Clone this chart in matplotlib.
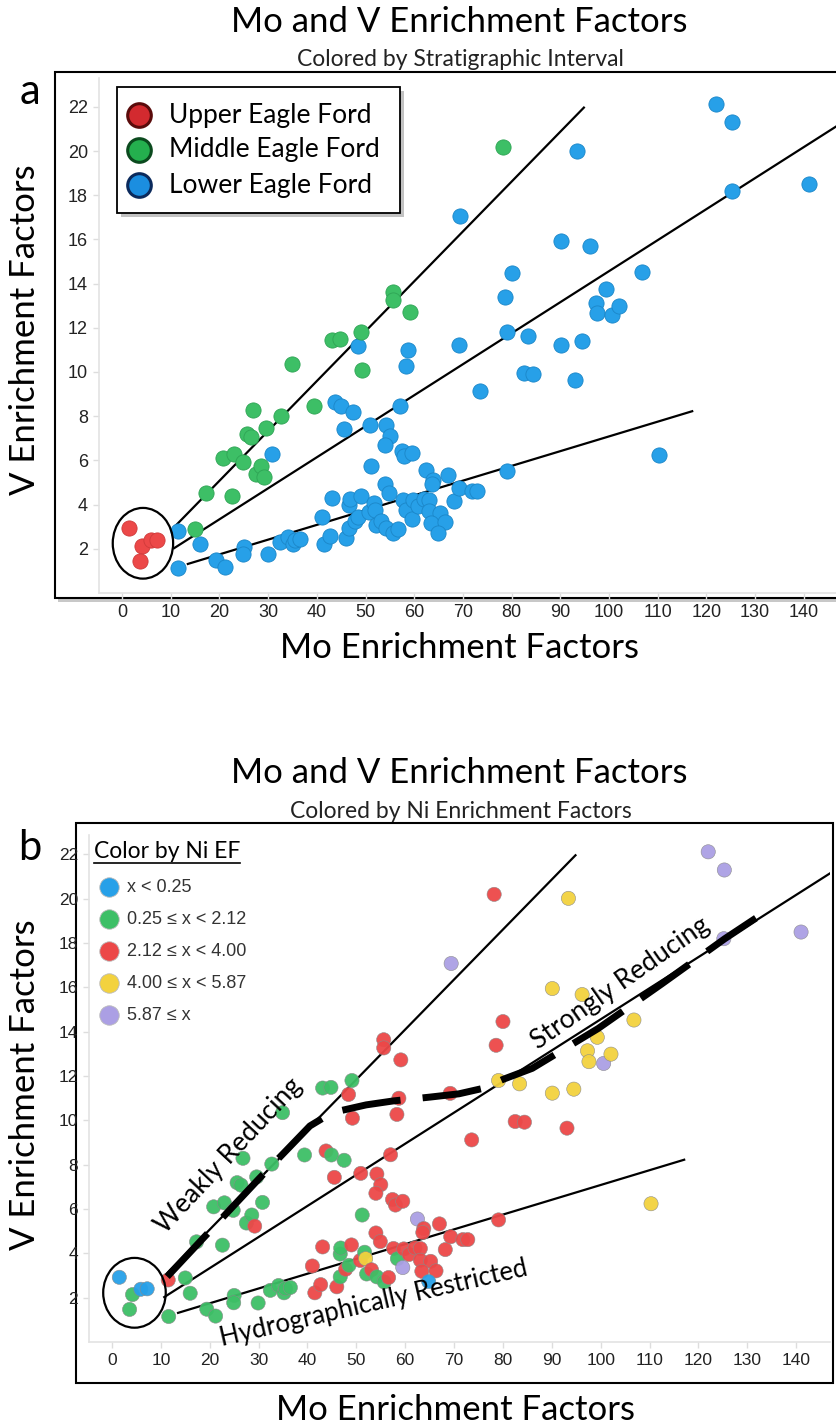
import numpy as np
import matplotlib
matplotlib.use("Agg")
import matplotlib.pyplot as plt
from matplotlib.patches import Ellipse, Rectangle
from matplotlib.lines import Line2D

W, H = 836, 1428

# ---- data (Mo EF, V EF) ----
# upper eagle ford
upper_mo = [1.5, 4.2, 3.6, 5.9, 7.2]
upper_v = [2.92, 2.14, 1.47, 2.38, 2.4]
upper_ni = [0, 1, 1, 0, 0]

# middle eagle ford
middle_mo = [15.0, 17.3, 20.8, 23.0, 24.8, 22.6, 25.6, 26.4, 26.8, 27.5, 28.6, 29.2,
             29.6, 32.7, 34.9, 39.4, 43.1, 44.8, 49.1, 49.2, 55.6, 55.6, 59.1, 78.2]
middle_v = [2.89, 4.52, 6.1, 6.28, 5.94, 4.37, 7.19, 7.08, 8.29, 5.37, 5.73, 5.23,
            7.45, 8.03, 10.35, 8.44, 11.46, 11.49, 11.8, 10.1, 13.64, 13.27, 12.73, 20.2]
middle_ni = [1, 1, 1, 1, 1, 1, 1, 1, 1, 1, 1, 2,
             1, 1, 1, 1, 1, 1, 1, 2, 2, 2, 2, 2]

# lower eagle ford
lower_mo = [11.5, 11.6, 16.0, 19.4, 21.2, 25.0, 24.9, 29.9, 30.8, 32.4, 34.1, 35.2, 35.5, 36.5,
            41.0, 41.5, 42.7, 43.1, 43.8, 44.9, 45.5, 47.5, 46.0, 46.7, 46.7, 46.8, 47.8, 48.5,
            49.0, 48.4, 50.8, 50.9, 51.2, 51.7, 51.9, 52.1, 53.1, 54.2, 55.0, 54.0, 54.0, 54.9,
            54.2, 55.7, 56.6, 57.0, 58.7, 58.3, 57.4, 58.0, 59.5, 57.6, 58.4, 59.7, 59.5, 60.8,
            62.0, 63.1, 62.5, 63.8, 63.6, 63.1, 65.2, 63.4, 66.3, 64.8, 67.0, 68.2, 69.3, 71.8,
            72.8, 69.2, 73.6, 79.1, 79.1, 83.4, 82.5, 84.4, 90.1, 94.5, 93.1, 97.3, 97.6, 100.6,
            102.1, 99.3, 106.8, 110.3, 78.6, 80.0, 90.1, 96.2, 69.4, 93.4, 122.0, 125.3, 125.2, 141.0]
lower_v = [2.8, 1.15, 2.2, 1.48, 1.17, 2.1, 1.77, 1.76, 6.3, 2.33, 2.55, 2.22, 2.41, 2.46,
           3.43, 2.22, 2.59, 4.29, 8.62, 8.44, 7.43, 8.2, 2.49, 2.94, 3.97, 4.24, 3.28, 3.46,
           4.38, 11.17, 3.68, 7.61, 5.73, 4.05, 3.76, 3.07, 3.26, 7.58, 7.1, 6.71, 4.92, 4.53,
           2.94, 2.71, 2.91, 8.45, 11.0, 10.27, 6.43, 6.18, 6.35, 4.22, 3.76, 4.2, 3.36, 3.95,
           4.25, 4.22, 5.55, 5.12, 4.94, 3.69, 3.64, 3.19, 3.21, 2.73, 5.33, 4.17, 4.75, 4.62,
           4.62, 11.22, 9.12, 5.51, 11.8, 11.65, 9.95, 9.92, 11.23, 11.41, 9.65, 13.14, 12.65, 12.57,
           12.99, 13.75, 14.53, 6.24, 13.39, 14.46, 15.95, 15.68, 17.08, 20.02, 22.12, 21.3, 18.2, 18.5]
lower_ni = [2, 1, 1, 1, 1, 1, 1, 1, 1, 1, 1, 1, 1, 1,
            2, 2, 2, 2, 2, 1, 2, 1, 2, 1, 1, 1, 2, 1,
            2, 2, 2, 2, 1, 1, 3, 1, 2, 2, 2, 2, 2, 2,
            1, 1, 2, 2, 2, 2, 2, 2, 2, 2, 1, 2, 4, 2,
            2, 2, 4, 2, 2, 2, 2, 2, 2, 0, 2, 2, 2, 2,
            2, 2, 2, 2, 3, 3, 2, 2, 3, 3, 2, 3, 3, 4,
            3, 3, 3, 3, 2, 2, 3, 3, 4, 3, 4, 4, 4, 4]

interval_names = ["Upper Eagle Ford", "Middle Eagle Ford", "Lower Eagle Ford"]
ni_labels = ["x < 0.25", "0.25 \u2264 x < 2.12", "2.12 \u2264 x < 4.00",
             "4.00 \u2264 x < 5.87", "5.87 \u2264 x"]

# trend lines
steep_x, steep_y = [10.8, 95.0], [3.0, 22.0]
mid_x, mid_y = [10.5, 148.0], [2.0, 21.3]
low_x, low_y = [13.3, 117.3], [1.3, 8.24]

# redox boundary curve (panel b)
redox_x = [11.3, 20, 30, 40.5, 43.5, 47, 52, 57.6, 65, 71, 76, 80, 86, 99.5, 112.5, 125.4, 134.3]
redox_y = [2.95, 5.0, 7.35, 9.75, 10.15, 10.45, 10.7, 10.88, 11.05, 11.2, 11.45, 11.85, 12.35,
           14.15, 16.16, 18.2, 19.5]

blue = "#27a0e8"
green = "#3dbf66"
red = "#ec4848"
yellow = "#f3d23e"
purple = "#ab9fe4"
ni_colors = [blue, green, red, yellow, purple]

calibri = "Lato"
arial = "Liberation Sans"


def fx(px):
    return px / W


def fy(py):
    return 1 - py / H


fig = plt.figure(figsize=(W / 100, H / 100), dpi=100)
fig.patch.set_facecolor("white")


def style_axes(ax, xlim, ylim, fs):
    ax.set_xlim(*xlim)
    ax.set_ylim(*ylim)
    for s in ["top", "right"]:
        ax.spines[s].set_visible(False)
    for s in ["left", "bottom"]:
        ax.spines[s].set_color("#e3e3e3")
        ax.spines[s].set_linewidth(1.2)
    ax.set_xticks(np.arange(0, 141, 10))
    ax.set_yticks(np.arange(2, 23, 2))
    ax.tick_params(colors="#dddddd", length=4, width=1, labelcolor="#222222", labelsize=fs, pad=4)
    for lab in ax.get_xticklabels() + ax.get_yticklabels():
        lab.set_family(arial)


def draw_lines(ax):
    for xs, ys in [(steep_x, steep_y), (mid_x, mid_y), (low_x, low_y)]:
        ax.plot(xs, ys, color="black", lw=1.6, solid_capstyle="butt", zorder=3)


# ---------------- panel a ----------------
axa = fig.add_axes([fx(99), fy(593), (836 - 99) / W, (593 - 78) / H])
style_axes(axa, ((99 - 122) / 4.87, (836 - 122) / 4.87), (0, (593 - 78) / 22.1), 13)
axa.scatter(lower_mo, lower_v, s=120, color=blue, edgecolors="#1b86c8", linewidths=0.6, zorder=4)
axa.scatter(middle_mo, middle_v, s=120, color=green, edgecolors="#2fa455", linewidths=0.6, zorder=4)
axa.scatter(upper_mo, upper_v, s=120, color=red, edgecolors="#cf3a3a", linewidths=0.6, zorder=4)
draw_lines(axa)
axa.add_patch(Ellipse((4.3, 2.25), 12.4, 3.2, fill=False, edgecolor="black", lw=1.6, zorder=5))

# legend a
fig.add_artist(Rectangle((fx(121), fy(217)), (400 - 117) / W, (213 - 87) / H,
                         transform=fig.transFigure, facecolor="#9a9a9a", edgecolor="none",
                         alpha=0.6, zorder=6))
fig.add_artist(Rectangle((fx(117), fy(213)), (400 - 117) / W, (213 - 87) / H,
                         transform=fig.transFigure, facecolor="white", edgecolor="black",
                         lw=1.3, zorder=7))
leg_fill = ["#d32a2f", "#24b04e", "#1b8ee0"]
leg_edge = ["#5a0b0b", "#0b4a1e", "#0b2a5c"]
for i, name in enumerate(interval_names):
    yy = 115 + 35 * i
    fig.add_artist(Line2D([fx(139)], [fy(yy)], marker="o", markersize=17,
                          markerfacecolor=leg_fill[i], markeredgecolor=leg_edge[i],
                          markeredgewidth=2.2, transform=fig.transFigure, zorder=8))
    fig.text(fx(169), fy(yy), name, family=calibri, fontsize=19, ha="left", va="center",
             color="black", zorder=8)

# frame a
fig.add_artist(Rectangle((fx(58), fy(602)), (850 - 58) / W, (602 - 76) / H,
                         transform=fig.transFigure, facecolor="#c8c8c8", edgecolor="none", zorder=-2))
fig.add_artist(Rectangle((fx(55), fy(598)), (850 - 55) / W, (598 - 72) / H,
                         transform=fig.transFigure, facecolor="white", edgecolor="black",
                         lw=1.5, zorder=-1))

fig.text(fx(459), fy(22), "Mo and V Enrichment Factors", family=calibri, fontsize=25,
         ha="center", va="center")
fig.text(fx(460), fy(60), "Colored by Stratigraphic Interval", family=calibri, fontsize=16.5,
         ha="center", va="center", color="#222222")
fig.text(fx(30), fy(92), "a", family=calibri, fontsize=30, ha="center", va="center")
fig.text(fx(25), fy(330), "V Enrichment Factors", family=calibri, fontsize=25,
         rotation=90, ha="center", va="center")
fig.text(fx(460), fy(648), "Mo Enrichment Factors", family=calibri, fontsize=25,
         ha="center", va="center")

# ---------------- panel b ----------------
axb = fig.add_axes([fx(89), fy(1342), (830 - 89) / W, (1342 - 835) / H])
style_axes(axb, ((89 - 112) / 4.887, (830 - 112) / 4.887), (0, (1342 - 835) / 22.16), 12.5)
all_mo = lower_mo + middle_mo + upper_mo
all_v = lower_v + middle_v + upper_v
all_ni = lower_ni + middle_ni + upper_ni
cols = [ni_colors[k] for k in all_ni]
axb.scatter(all_mo, all_v, s=105, c=cols, edgecolors="#8a8a8a", linewidths=0.4, alpha=0.95, zorder=4)
draw_lines(axb)
axb.plot(redox_x, redox_y, color="black", lw=5, dashes=(8.5, 3.2), solid_capstyle="butt",
         dash_capstyle="butt", zorder=5)
axb.add_patch(Ellipse((4.6, 2.22), 12.8, 3.15, fill=False, edgecolor="black", lw=1.6, zorder=5))

axb.text(23.8, 8.4, "Weakly Reducing", family=calibri, fontsize=19, rotation=47,
         ha="center", va="center", rotation_mode="anchor", zorder=6)
axb.text(104.0, 16.2, "Strongly Reducing", family=calibri, fontsize=19, rotation=35,
         ha="center", va="center", rotation_mode="anchor", zorder=6)
axb.text(53.6, 1.75, "Hydrographically Restricted", family=calibri, fontsize=18.5, rotation=13,
         ha="center", va="center", rotation_mode="anchor", zorder=6)

# legend b
fig.text(fx(94), fy(851), "Color by Ni EF", family=calibri, fontsize=16.5, ha="left", va="center")
fig.add_artist(Line2D([fx(94), fx(240)], [fy(863), fy(863)], color="black", lw=1.2,
                      transform=fig.transFigure))
for i, lab in enumerate(ni_labels):
    yy = 887 + 32 * i
    fig.add_artist(Line2D([fx(109)], [fy(yy)], marker="o", markersize=14,
                          markerfacecolor=ni_colors[i], markeredgecolor="#bbbbbb",
                          markeredgewidth=0.6, transform=fig.transFigure))
    fig.text(fx(127), fy(yy), lab, family=arial, fontsize=13, ha="left", va="center",
             color="#333333")

# frame b
fig.add_artist(Rectangle((fx(76), fy(1383)), (833 - 76) / W, (1383 - 823) / H,
                         transform=fig.transFigure, facecolor="white", edgecolor="black",
                         lw=1.5, zorder=-1))

fig.text(fx(459), fy(773), "Mo and V Enrichment Factors", family=calibri, fontsize=25,
         ha="center", va="center")
fig.text(fx(461), fy(812), "Colored by Ni Enrichment Factors", family=calibri, fontsize=16.5,
         ha="center", va="center", color="#222222")
fig.text(fx(30), fy(848), "b", family=calibri, fontsize=30, ha="center", va="center")
fig.text(fx(25), fy(1085), "V Enrichment Factors", family=calibri, fontsize=25,
         rotation=90, ha="center", va="center")
fig.text(fx(455), fy(1410), "Mo Enrichment Factors", family=calibri, fontsize=25,
         ha="center", va="center")

fig.savefig("out.png", dpi=100, facecolor="white")
